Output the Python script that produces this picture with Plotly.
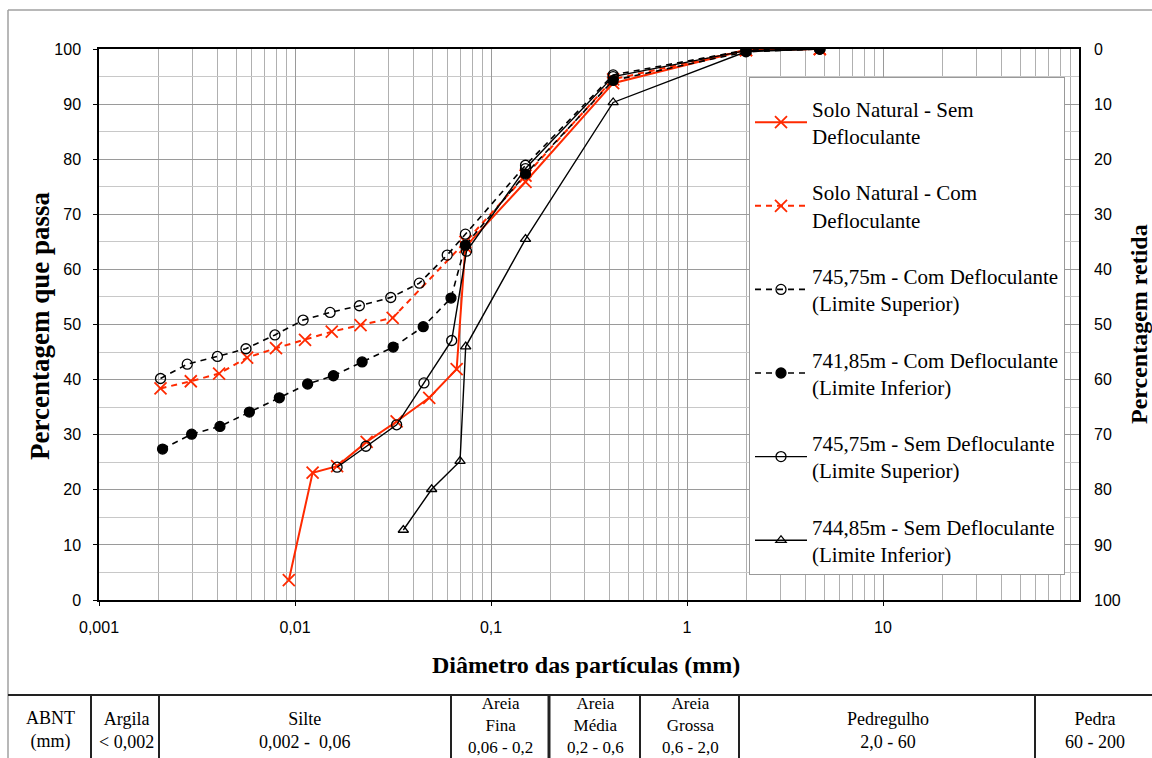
import plotly.graph_objects as go

# ---------------- data (diameter in mm, percent passing) ----------------
d_sn_sem = [0.0093, 0.0123, 0.0164, 0.0232, 0.0330, 0.0484, 0.0668, 0.074, 0.150, 0.42, 2.0, 4.76]
p_sn_sem = [3.6, 23.1, 24.3, 28.7, 32.4, 36.7, 41.9, 64.1, 75.9, 93.8, 99.8, 100]

d_sn_com = [0.00206, 0.00294, 0.0041, 0.0057, 0.0080, 0.01125, 0.0154, 0.0216, 0.0315, 0.074, 0.150, 0.42, 2.0, 4.76]
p_sn_com = [38.4, 39.7, 41.1, 44.0, 45.7, 47.2, 48.7, 49.9, 51.2, 65.0, 77.0, 94.5, 99.8, 100]

d_745_com = [0.00206, 0.00282, 0.00402, 0.00562, 0.0079, 0.0110, 0.0151, 0.0213, 0.0308, 0.0431, 0.0598, 0.074, 0.150, 0.42, 2.0, 4.76]
p_745_com = [40.2, 42.8, 44.2, 45.6, 48.1, 50.8, 52.2, 53.4, 54.9, 57.5, 62.6, 66.4, 78.9, 95.3, 99.8, 100]

d_741_com = [0.00211, 0.00297, 0.00414, 0.00585, 0.00832, 0.0116, 0.0157, 0.0220, 0.0317, 0.0451, 0.0625, 0.074, 0.150, 0.42, 2.0, 4.76]
p_741_com = [27.4, 30.1, 31.5, 34.1, 36.7, 39.2, 40.7, 43.2, 45.9, 49.6, 54.8, 64.4, 77.3, 94.3, 99.5, 100]

d_745_sem = [0.0164, 0.0230, 0.0330, 0.0455, 0.0630, 0.075, 0.150, 0.42, 2.0, 4.76]
p_745_sem = [24.1, 27.9, 31.8, 39.4, 47.1, 63.3, 78.3, 95.0, 99.7, 100]

d_744_sem = [0.0357, 0.0498, 0.0695, 0.0743, 0.150, 0.42, 2.0, 4.76]
p_744_sem = [12.7, 20.1, 25.2, 46.0, 65.5, 90.3, 99.5, 100]

x_tickvals = [0.001, 0.01, 0.1, 1, 10]
x_ticktext = ["0,001", "0,01", "0,1", "1", "10"]
y_ticks = [0, 10, 20, 30, 40, 50, 60, 70, 80, 90, 100]

table_cells = [
    ("ABNT<br>(mm)", 50, 730, 18),
    ("Argila<br>< 0,002", 126, 730, 18),
    ("Silte<br>0,002 -  0,06", 305, 730, 18),
    ("Areia<br>Fina<br>0,06 - 0,2", 500, 725, 17),
    ("Areia<br>Média<br>0,2 - 0,6", 595, 725, 17),
    ("Areia<br>Grossa<br>0,6 - 2,0", 690, 725, 17),
    ("Pedregulho<br>2,0 - 60", 888, 730, 18),
    ("Pedra<br>60 - 200", 1095, 730, 18),
]
table_dividers = [91, 159, 451, 549, 640, 739, 1035]

# ---------------- figure ----------------
W, H = 1152, 758
L, R, T, B = 99, 1079, 49, 600

def px(x):
    return (x - L) / (R - L)

def py(y):
    return (B - y) / (B - T)

RED = "#ff2a00"
SERIF = "Liberation Serif"
SANS = "Liberation Sans"

fig = go.Figure()

traces = [
    ("Solo Natural - Sem<br>Defloculante", d_sn_sem, p_sn_sem, RED, "solid", "x-thin-open", 2, 12),
    ("Solo Natural - Com<br>Defloculante", d_sn_com, p_sn_com, RED, "dash", "x-thin-open", 2, 12),
    ("745,75m - Com Defloculante<br>(Limite Superior)", d_745_com, p_745_com, "black", "dash", "circle-open", 1.6, 10),
    ("741,85m - Com Defloculante<br>(Limite Inferior)", d_741_com, p_741_com, "black", "dash", "circle", 1.6, 10),
    ("745,75m - Sem Defloculante<br>(Limite Superior)", d_745_sem, p_745_sem, "black", "solid", "circle-open", 1.4, 10),
    ("744,85m - Sem Defloculante<br>(Limite Inferior)", d_744_sem, p_744_sem, "black", "solid", "triangle-up-open", 1.4, 9),
]
for i, (name, xs, ys, col, dash, sym, lw, ms) in enumerate(traces):
    fig.add_trace(go.Scatter(
        x=xs, y=ys, name=name, mode="lines+markers",
        line=dict(color=col, width=lw, dash=dash if dash == "solid" else "6px,5px"),
        marker=dict(symbol=sym, size=ms, color=col, line=dict(color=col, width=1.3 if sym != "x-thin-open" else 1.8)),
        legendgroup=f"g{i}",
    ))

# the right-hand axis (percent retained) needs a trace bound to it to be drawn
fig.add_trace(go.Scatter(x=[None], y=[None], yaxis="y2", showlegend=False, hoverinfo="skip"))

minor_vals = []
for e in range(-3, 2):
    for m in range(2, 10):
        minor_vals.append(m * 10 ** e)

fig.update_layout(
    width=W, height=H,
    margin=dict(l=L, r=W - R, t=T, b=H - B, pad=0),
    paper_bgcolor="white", plot_bgcolor="white",
    showlegend=True,
    legend=dict(
        x=px(749), y=py(77), xanchor="left", yanchor="top",
        bgcolor="white", bordercolor="#999", borderwidth=1,
        font=dict(family=SERIF, size=21, color="black"),
        title=dict(text=" ", font=dict(size=8)),
        tracegroupgap=26, itemwidth=52,
    ),
    xaxis=dict(
        type="log", range=[-3, 2],
        tickvals=x_tickvals, ticktext=x_ticktext,
        tickfont=dict(family=SANS, size=16, color="black"),
        ticks="outside", ticklen=4, tickcolor="black", ticklabelstandoff=8,
        showgrid=True, gridcolor="#9a9a9a", gridwidth=1,
        minor=dict(tickvals=minor_vals, showgrid=True, gridcolor="#b0b0b0", gridwidth=1, ticks=""),
        showline=True, linecolor="black", linewidth=1.5, mirror=True,
        zeroline=False,
    ),
    yaxis=dict(
        range=[0, 100], tickvals=y_ticks,
        tickfont=dict(family=SANS, size=16, color="black"),
        ticks="outside", ticklen=4, tickcolor="black", ticklabelstandoff=9,
        showgrid=True, gridcolor="#9a9a9a", gridwidth=1,
        minor=dict(dtick=5, showgrid=True, gridcolor="#c8c8c8", gridwidth=1, ticks=""),
        showline=True, linecolor="black", linewidth=1.5, mirror=True,
        zeroline=False,
    ),
    yaxis2=dict(
        range=[100, 0], tickvals=y_ticks, overlaying="y", side="right",
        tickfont=dict(family=SANS, size=16, color="black"),
        ticks="", showgrid=False, zeroline=False, showline=False, ticklabelstandoff=14,
    ),
)

annotations = [
    dict(text="<b>Diâmetro das partículas (mm)</b>", x=px(586), y=py(665),
         font=dict(family=SERIF, size=24, color="black")),
    dict(text="<b>Percentagem que passa</b>", x=px(40), y=py(326), textangle=-90,
         font=dict(family=SERIF, size=27, color="black")),
    dict(text="<b>Percentagem retida</b>", x=px(1139), y=py(324), textangle=-90,
         font=dict(family=SERIF, size=24, color="black")),
]
for txt, cx, cy, fs in table_cells:
    annotations.append(dict(text=txt, x=px(cx), y=py(cy),
                            font=dict(family=SERIF, size=fs, color="black")))
for a in annotations:
    a.update(xref="paper", yref="paper", showarrow=False, xanchor="center", yanchor="middle")
fig.update_layout(annotations=annotations)

shapes = [
    # outer frame
    dict(type="line", x0=px(8), x1=px(1160), y0=py(10), y1=py(10), line=dict(color="#a0a0a0", width=1.5)),
    dict(type="line", x0=px(8), x1=px(8), y0=py(10), y1=py(770), line=dict(color="#a0a0a0", width=1.5)),
    # table top
    dict(type="line", x0=px(8), x1=px(1160), y0=py(695), y1=py(695), line=dict(color="#222", width=2)),
]
for xd in table_dividers:
    shapes.append(dict(type="line", x0=px(xd), x1=px(xd), y0=py(695), y1=py(770),
                       line=dict(color="#222", width=3 if xd == 549 else 2)))
for s in shapes:
    s.update(xref="paper", yref="paper", layer="above")
fig.update_layout(shapes=shapes)

fig.write_html("out.html", config={"displayModeBar": False},
               post_script="document.body.style.margin='0';document.body.style.overflow='hidden';")
